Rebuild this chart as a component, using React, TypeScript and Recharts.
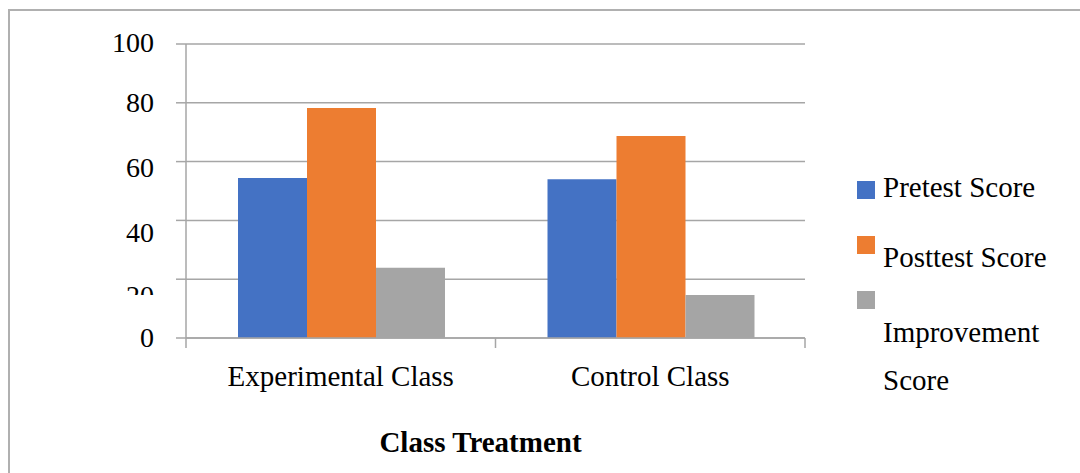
import { BarChart, Bar, XAxis, YAxis, CartesianGrid, Legend } from 'recharts'

const categories = ['Experimental Class', 'Control Class']
const pretestScores = [54.4, 54.0]
const posttestScores = [78.2, 68.7]
const improvementScores = [23.9, 14.6]
const yTicks = [0, 20, 40, 60, 80, 100]

const seriesNames = ['Pretest Score', 'Posttest Score', 'Improvement Score']
const COLORS = ['#4472C4', '#ED7D31', '#A5A5A5']

const data = categories.map((name, i) => ({
  name,
  pretest: pretestScores[i],
  posttest: posttestScores[i],
  improvement: improvementScores[i]
}))

const FONT = "'Liberation Serif', 'Times New Roman', serif"
const GRID = '#a6a6a6'

const WIDTH = 1080
const HEIGHT = 473
const PLOT_LEFT = 186
const PLOT_RIGHT = 805
const HALF_BAND = (PLOT_RIGHT - PLOT_LEFT) / categories.length / 2

// the source image nudges some y labels downward, and clips "20"
const yLabelShift: Record<number, number> = { 100: 8, 80: 9.5, 60: 15, 40: 21.5, 20: 25.5, 0: 9 }

const YTick = (props: any) => {
  const { x, y, payload } = props
  const v = payload.value as number
  return (
    <g>
      {v === 20 && (
        <defs>
          <clipPath id="clip-y20">
            <rect x={0} y={0} width={PLOT_LEFT} height={295} />
          </clipPath>
        </defs>
      )}
      <text
        x={x}
        y={y + yLabelShift[v]}
        textAnchor="end"
        fontFamily={FONT}
        fontSize={28}
        fill="#000"
        clipPath={v === 20 ? 'url(#clip-y20)' : undefined}
      >
        {v}
      </text>
    </g>
  )
}

const XTick = (props: any) => {
  const { x, payload, index } = props
  const base = 338
  return (
    <g>
      <line x1={x - HALF_BAND} x2={x - HALF_BAND} y1={base} y2={base + 10} stroke={GRID} strokeWidth={1.5} />
      {index === categories.length - 1 && (
        <line x1={x + HALF_BAND} x2={x + HALF_BAND} y1={base} y2={base + 10} stroke={GRID} strokeWidth={1.5} />
      )}
      <text x={x} y={386} textAnchor="middle" fontFamily={FONT} fontSize={29} fill="#000">
        {payload.value}
      </text>
    </g>
  )
}

const LegendBox = () => {
  const items = [
    { square: 181, lines: [{ text: 'Pretest Score', y: 197 }] },
    { square: 236, lines: [{ text: 'Posttest Score', y: 267 }] },
    {
      square: 291,
      lines: [
        { text: 'Improvement', y: 342 },
        { text: 'Score', y: 390 }
      ]
    }
  ]
  return (
    <svg width={WIDTH} height={HEIGHT} style={{ position: 'absolute', left: 0, top: 0, overflow: 'visible' }}>
      {items.map((it, i) => (
        <g key={seriesNames[i]}>
          <rect x={857} y={it.square} width={18} height={18} fill={COLORS[i]} />
          {it.lines.map((l) => (
            <text key={l.text} x={883} y={l.y} fontFamily={FONT} fontSize={29} fill="#000">
              {l.text}
            </text>
          ))}
        </g>
      ))}
    </svg>
  )
}

export default function App() {
  return (
    <div
      style={{
        position: 'absolute',
        left: 0,
        top: 0,
        width: WIDTH,
        height: HEIGHT,
        overflow: 'hidden',
        background: '#fff'
      }}
    >
      <div
        style={{
          position: 'absolute',
          left: 8,
          top: 9,
          width: 1200,
          height: 600,
          border: '2px solid #b0b0b0'
        }}
      />
      <BarChart
        width={WIDTH}
        height={HEIGHT}
        data={data}
        margin={{ top: 44, right: WIDTH - PLOT_RIGHT, bottom: 0, left: 0 }}
        barCategoryGap={52}
        barGap={0}
        style={{ position: 'absolute', left: 0, top: 0 }}
      >
        <CartesianGrid vertical={false} stroke={GRID} strokeWidth={1.5} />
        <XAxis
          dataKey="name"
          height={135}
          axisLine={{ stroke: GRID, strokeWidth: 1.5 }}
          tickLine={false}
          tick={<XTick />}
          interval={0}
          label={{
            value: 'Class Treatment',
            position: 'insideBottom',
            offset: 21,
            dx: -15,
            fontFamily: FONT,
            fontSize: 29,
            fontWeight: 'bold',
            fill: '#000'
          }}
        />
        <YAxis
          width={PLOT_LEFT}
          domain={[0, 100]}
          ticks={yTicks}
          interval={0}
          axisLine={{ stroke: GRID, strokeWidth: 1.5 }}
          tickLine={{ stroke: GRID, strokeWidth: 1.5 }}
          tickSize={10}
          tickMargin={22}
          tick={<YTick />}
        />
        <Bar dataKey="pretest" name={seriesNames[0]} fill={COLORS[0]} isAnimationActive={false} />
        <Bar dataKey="posttest" name={seriesNames[1]} fill={COLORS[1]} isAnimationActive={false} />
        <Bar dataKey="improvement" name={seriesNames[2]} fill={COLORS[2]} isAnimationActive={false} />
        <Legend
          content={<LegendBox />}
          wrapperStyle={{ position: 'absolute', left: 0, top: 0, width: 0, height: 0, overflow: 'visible' }}
        />
      </BarChart>
    </div>
  )
}
